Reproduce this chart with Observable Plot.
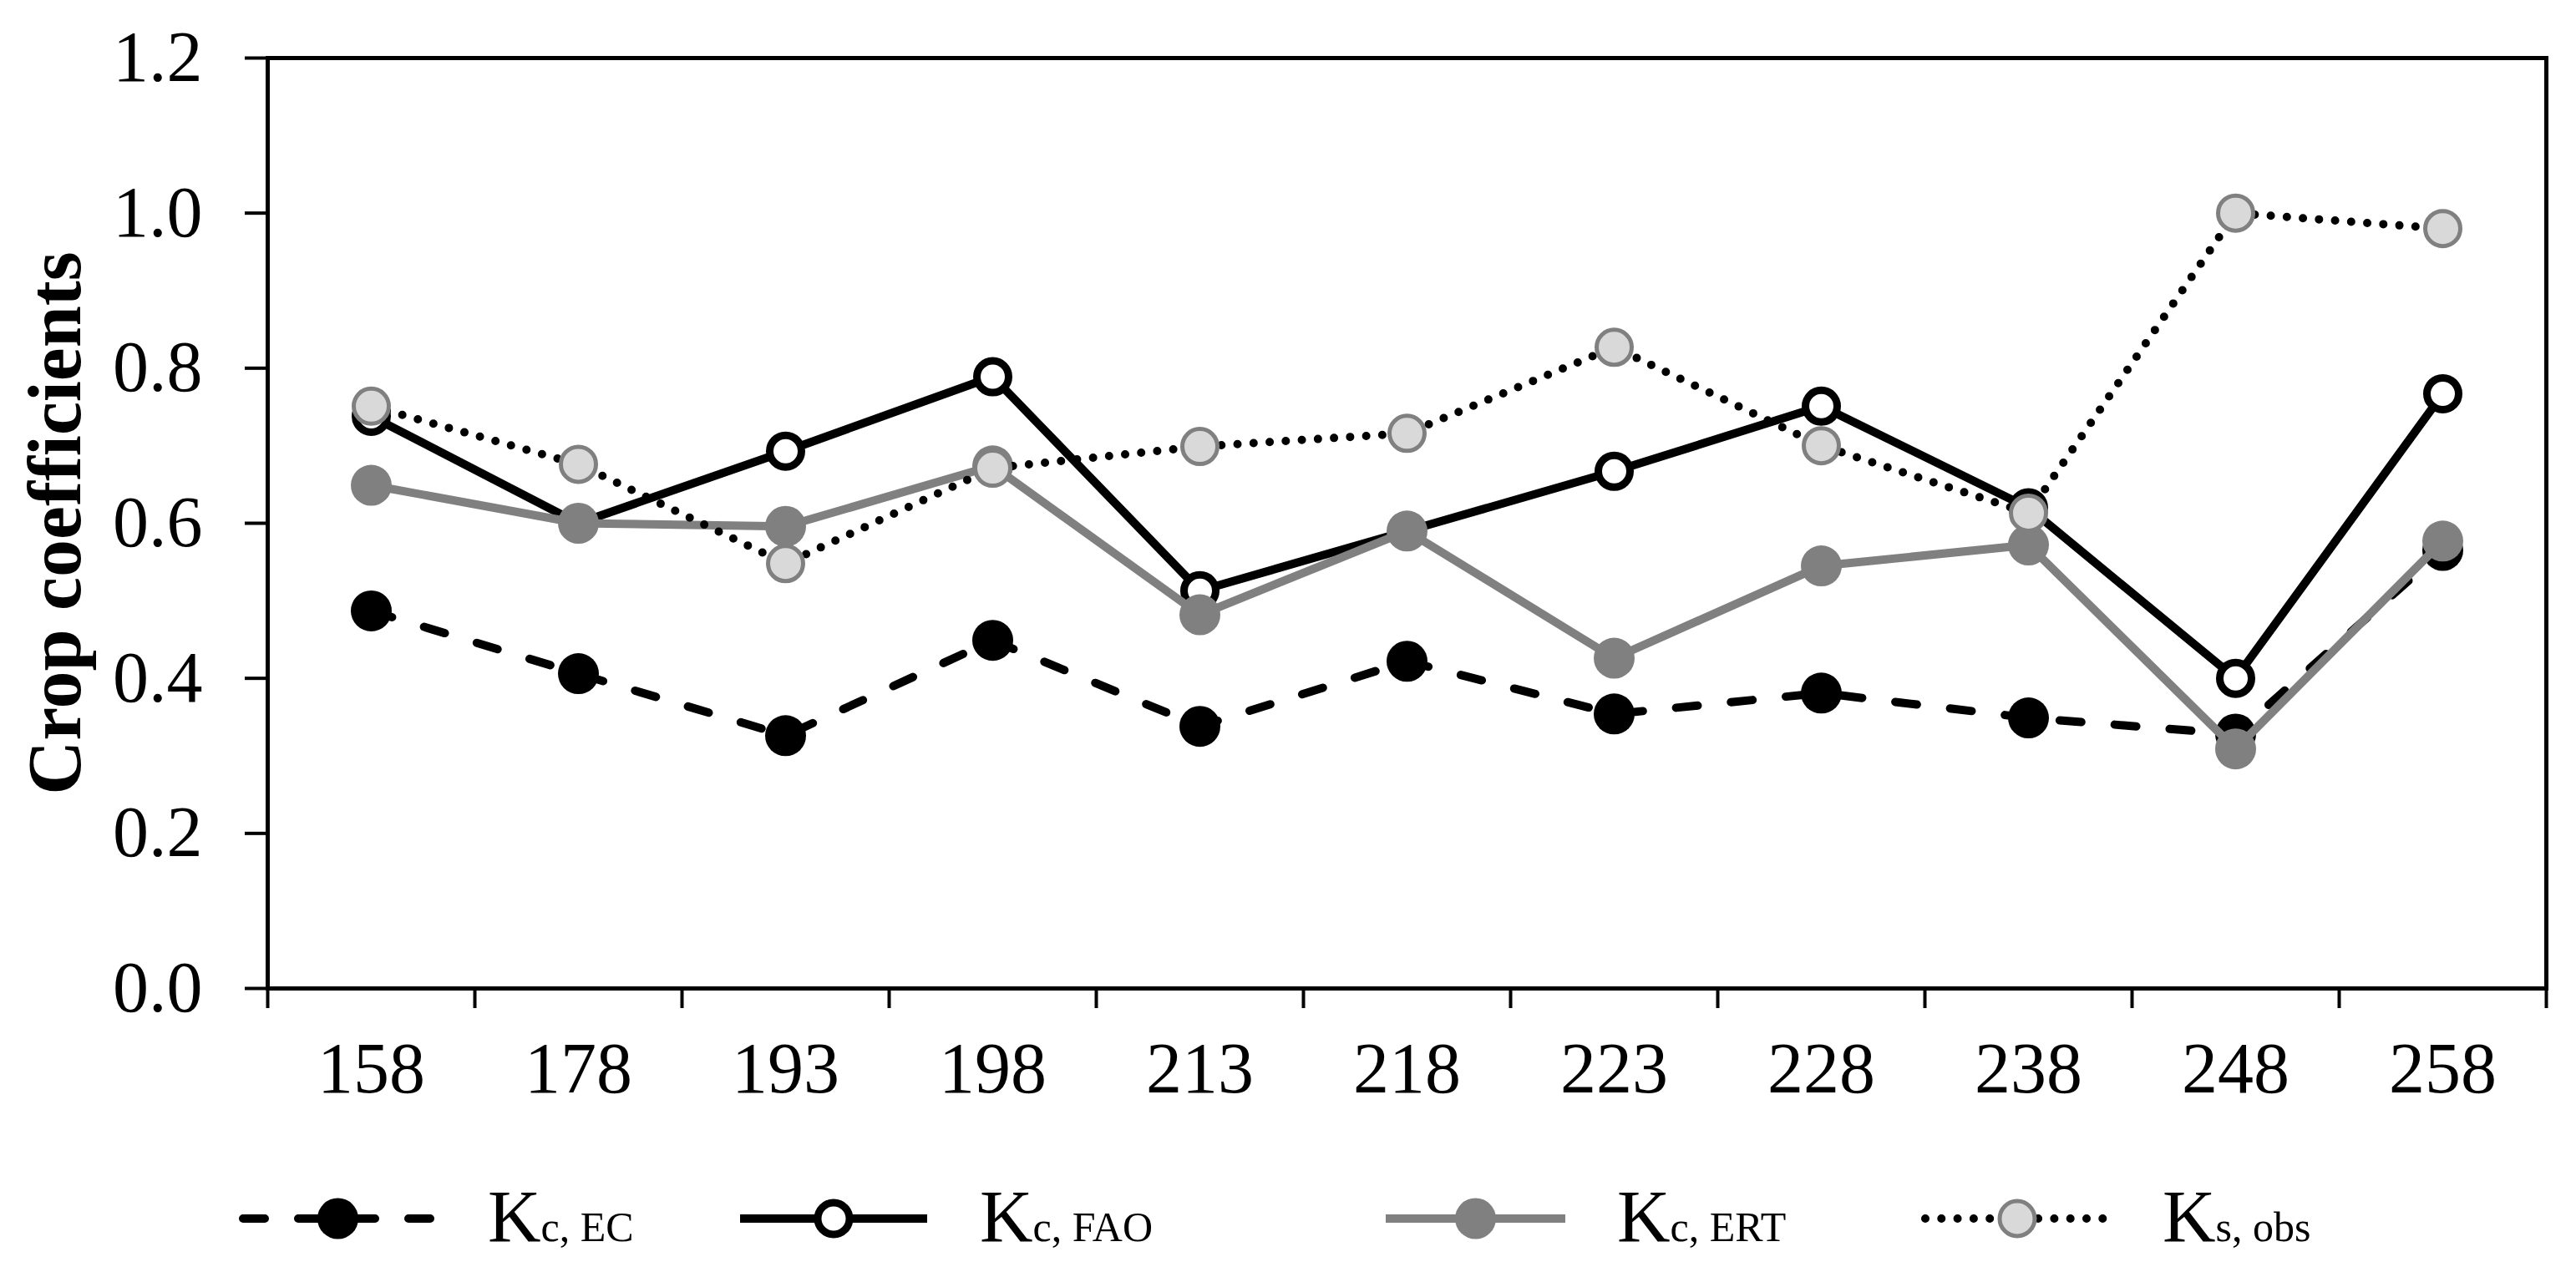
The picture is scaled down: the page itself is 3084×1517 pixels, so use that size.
<!DOCTYPE html>
<html><head><meta charset="utf-8">
<script src="https://cdn.jsdelivr.net/npm/d3@7"></script>
<script src="https://cdn.jsdelivr.net/npm/@observablehq/plot@0.6"></script>
<style>
html,body{margin:0;padding:0;background:#fff;}
#chart{width:3084px;}
#chart svg{display:block;}
</style></head><body><div id="chart"></div>
<script>
// ---- data ----
const days = ["158","178","193","198","213","218","223","228","238","248","258"];
const kcEC  = [0.487,0.406,0.326,0.449,0.338,0.422,0.354,0.381,0.349,0.328,0.565];
const kcFAO = [0.738,0.600,0.693,0.789,0.513,0.590,0.667,0.751,0.620,0.400,0.767];
const kcERT = [0.649,0.600,0.596,0.674,0.482,0.590,0.426,0.545,0.572,0.309,0.577];
const ksObs = [0.751,0.676,0.548,0.671,0.699,0.716,0.827,0.700,0.613,1.000,0.980];
const yTicks = [0, 0.2, 0.4, 0.6, 0.8, 1.0, 1.2];
const yTitle = "Crop coefficients";
const legendMain = ["K","K","K","K"];
const legendSub = ["c, EC","c, FAO","c, ERT","s, obs"];

const rows = vals => vals.map((v, i) => ({i, day: days[i], v}));
const ec = rows(kcEC), fao = rows(kcFAO), ert = rows(kcERT), obs = rows(ksObs);

const FONT = "'Liberation Serif','Times New Roman',serif";
const W = 3084, H = 1390, AXIS_Y = 1183;
const xc = d => d.i + 0.5;

// series styles (shared by chart and legend)
const styles = [
  {line: {stroke: "#000", strokeWidth: 10, strokeDasharray: "26 40", strokeLinecap: "round"}, dot: {r: 24.5, fill: "#000", stroke: "none"}},
  {line: {stroke: "#000", strokeWidth: 10}, dot: {r: 19, fill: "#fff", stroke: "#000", strokeWidth: 9}},
  {line: {stroke: "#808080", strokeWidth: 10}, dot: {r: 24.5, fill: "#808080", stroke: "none"}},
  {line: {stroke: "#000", strokeWidth: 10, strokeDasharray: "0 19.3", strokeLinecap: "round"}, dot: {r: 21, fill: "#d9d9d9", stroke: "#808080", strokeWidth: 5}}
];
const seriesData = [ec, fao, ert, obs];

const plot = Plot.plot({
  width: W, height: H,
  marginLeft: 320, marginRight: 36, marginTop: 69, marginBottom: H - AXIS_Y,
  style: {fontFamily: FONT, fontSize: "86px", color: "#000", background: "#fff", overflow: "visible"},
  x: {type: "linear", domain: [0, days.length], axis: null},
  y: {domain: [0, 1.2], axis: null},
  marks: [
    Plot.axisY(yTicks, {tickSize: 27, tickPadding: 51, tickFormat: d => d.toFixed(1), strokeWidth: 4, label: null}),
    Plot.axisX(d3.range(days.length + 1), {tickSize: 24, tickFormat: () => "", strokeWidth: 4, label: null}),
    Plot.axisX(d3.range(days.length).map(i => i + 0.5), {tickSize: 0, tickPadding: 63, tickFormat: d => days[Math.floor(d)], label: null}),
    Plot.frame({stroke: "#000", strokeWidth: 5}),
    Plot.text([yTitle], {frameAnchor: "left", rotate: -90, dx: -225, textAnchor: "middle", lineAnchor: "bottom", fontWeight: "bold", fontSize: 90}),
    ...seriesData.flatMap((data, k) => [
      Plot.line(data, {x: xc, y: "v", ...styles[k].line}),
      Plot.dot(data, {x: xc, y: "v", ...styles[k].dot})
    ])
  ]
});
document.getElementById("chart").appendChild(plot);

// ---- legend (below the chart SVG) ----
const LH = 1517 - H;
const lineStart = [291, 886, 1659, 2305];
const lineEnd   = [518, 1110, 1874, 2525];
const textStart = [584, 1173, 1936, 2589];
const lineY = 69, baseY = 96;
const leg = d3.select("#chart").append("svg")
  .attr("width", W).attr("height", LH)
  .style("display", "block").style("background", "#fff")
  .attr("font-family", FONT);
styles.forEach((s, k) => {
  const g = leg.append("g");
  const ln = g.append("line")
    .attr("x1", lineStart[k]).attr("x2", lineEnd[k])
    .attr("y1", lineY).attr("y2", lineY)
    .attr("stroke", s.line.stroke).attr("stroke-width", s.line.strokeWidth);
  if (s.line.strokeDasharray) ln.attr("stroke-dasharray", s.line.strokeDasharray);
  if (s.line.strokeLinecap) ln.attr("stroke-linecap", s.line.strokeLinecap);
  g.append("circle")
    .attr("cx", (lineStart[k] + lineEnd[k]) / 2).attr("cy", lineY).attr("r", s.dot.r)
    .attr("fill", s.dot.fill).attr("stroke", s.dot.stroke)
    .attr("stroke-width", s.dot.strokeWidth || 0);
  const t = g.append("text").attr("x", textStart[k]).attr("y", baseY).attr("font-size", 88).attr("fill", "#000");
  t.append("tspan").text(legendMain[k]);
  t.append("tspan").attr("font-size", 50).text(legendSub[k]);
});
</script>
</body></html>
